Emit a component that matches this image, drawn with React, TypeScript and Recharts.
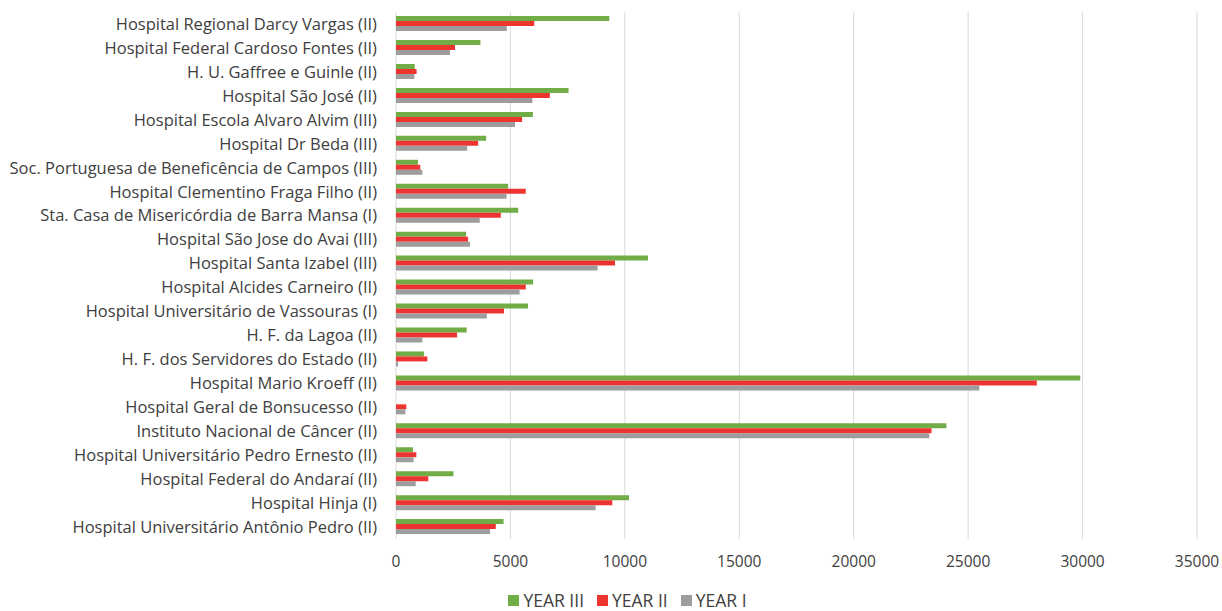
import { BarChart, Bar, XAxis, YAxis, CartesianGrid, Legend } from 'recharts';

const hospitals = [
  'Hospital Regional Darcy Vargas (II)',
  'Hospital Federal Cardoso Fontes (II)',
  'H. U. Gaffree e Guinle (II)',
  'Hospital São José (II)',
  'Hospital Escola Alvaro Alvim (III)',
  'Hospital Dr Beda (III)',
  'Soc. Portuguesa de Beneficência de Campos (III)',
  'Hospital Clementino Fraga Filho (II)',
  'Sta. Casa de Misericórdia de Barra Mansa (I)',
  'Hospital São Jose do Avai (III)',
  'Hospital Santa Izabel (III)',
  'Hospital Alcides Carneiro (II)',
  'Hospital Universitário de Vassouras (I)',
  'H. F. da Lagoa (II)',
  'H. F. dos Servidores do Estado (II)',
  'Hospital Mario Kroeff (II)',
  'Hospital Geral de Bonsucesso (II)',
  'Instituto Nacional de Câncer (II)',
  'Hospital Universitário Pedro Ernesto (II)',
  'Hospital Federal do Andaraí (II)',
  'Hospital Hinja (I)',
  'Hospital Universitário Antônio Pedro (II)',
];

const year3 = [9320, 3690, 820, 7540, 5980, 3940, 960, 4900, 5340, 3060, 11010, 5990, 5770, 3090, 1220, 29900, 0, 24050, 740, 2510, 10180, 4700];
const year2 = [6040, 2580, 900, 6720, 5510, 3590, 1060, 5670, 4580, 3150, 9570, 5670, 4720, 2670, 1370, 28000, 450, 23400, 890, 1410, 9450, 4360];
const year1 = [4840, 2360, 800, 5960, 5200, 3110, 1150, 4830, 3660, 3240, 8810, 5400, 3970, 1150, 90, 25490, 410, 23300, 770, 860, 8720, 4110];

const xTicks = [0, 5000, 10000, 15000, 20000, 25000, 30000, 35000];

const series = [
  { key: 'y3', name: 'YEAR III', color: '#70ad47' },
  { key: 'y2', name: 'YEAR II', color: '#ee3431' },
  { key: 'y1', name: 'YEAR I', color: '#9d9d9d' },
];

const data = hospitals.map((name, i) => ({
  name,
  y3: year3[i],
  y2: year2[i],
  y1: year1[i],
}));

const font = '"Open Sans", sans-serif';

// legend keeps the series order (recharts flips it in vertical layout)
function LegendBox() {
  return (
    <div style={{ display: 'flex', justifyContent: 'center', height: 22, alignItems: 'center', paddingLeft: 50, fontFamily: font, fontSize: 17.5, color: '#404040' }}>
      {series.map(s => (
        <div key={s.key} style={{ display: 'flex', alignItems: 'center', margin: '0 6.5px' }}>
          <span style={{ width: 11, height: 11, background: s.color, marginRight: 4, display: 'inline-block' }} />
          <span>{s.name}</span>
        </div>
      ))}
    </div>
  );
}

export default function App() {
  return (
    <div style={{ width: 1222, height: 611, fontFamily: font }}>
      <style>{'body { margin: 0; }'}</style>
      <BarChart
        width={1222}
        height={611}
        data={data}
        layout="vertical"
        margin={{ top: 12, right: 25, left: 8, bottom: 0 }}
        barGap={0}
        barCategoryGap="17%"
      >
        <CartesianGrid horizontal={false} stroke="#d9d9d9" />
        <XAxis
          type="number"
          domain={[0, 35000]}
          ticks={xTicks}
          axisLine={false}
          tickLine={false}
          tickMargin={11}
          height={50}
          interval={0}
          tick={{ fontSize: 15.5, fill: '#404040', fontFamily: font }}
        />
        <YAxis
          type="category"
          dataKey="name"
          width={388}
          axisLine={false}
          tickLine={false}
          tickMargin={13}
          interval={0}
          tick={{ fontSize: 16.5, fill: '#404040', fontFamily: font }}
        />
        <Legend verticalAlign="bottom" height={22} content={() => <LegendBox />} />
        {series.map(s => (
          <Bar key={s.key} dataKey={s.key} name={s.name} fill={s.color} isAnimationActive={false} />
        ))}
      </BarChart>
    </div>
  );
}
